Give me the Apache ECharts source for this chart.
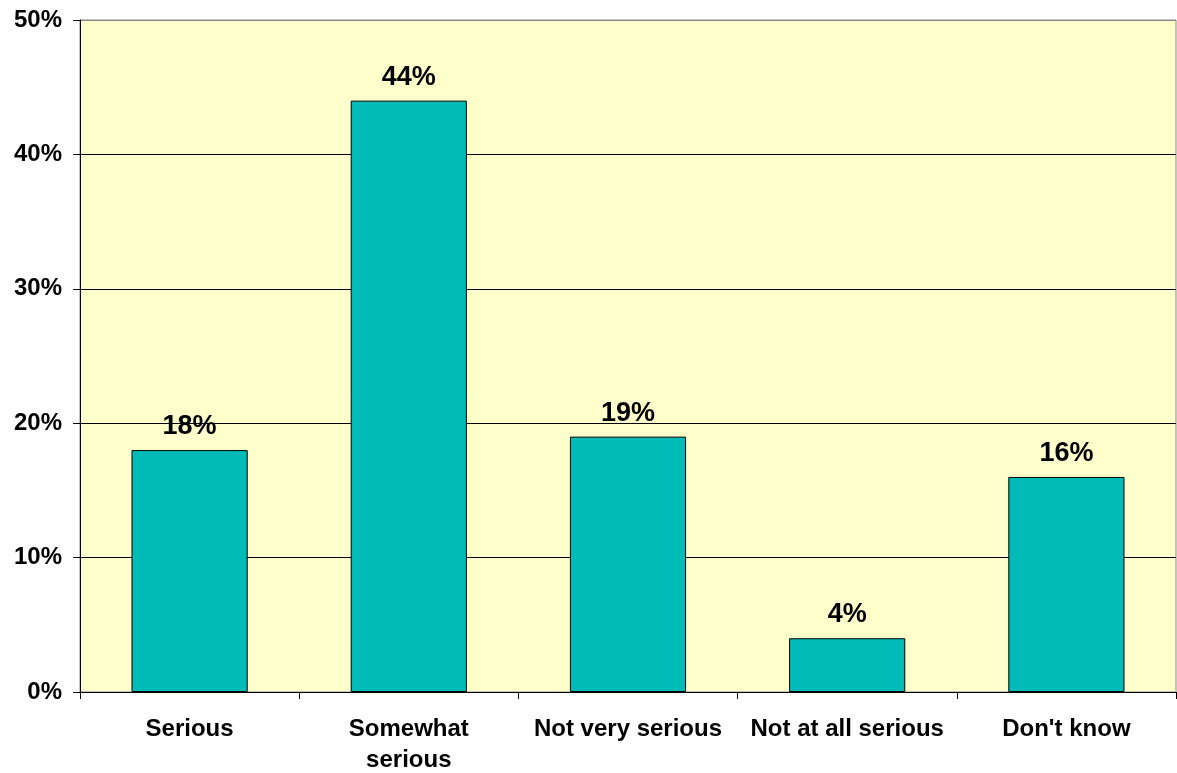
<!DOCTYPE html>
<html>
<head>
<meta charset="utf-8">
<script src="https://cdn.jsdelivr.net/npm/echarts@6/dist/echarts.min.js"></script>
<style>
html,body{margin:0;padding:0;background:#fff;}
#chart{width:1177px;height:773px;}
</style>
</head>
<body>
<div id="chart"></div>
<script>
const categories = ["Serious", "Somewhat\nserious", "Not very serious", "Not at all serious", "Don't know"];
const values = [18, 44, 19, 4, 16];
const yTicks = [0, 10, 20, 30, 40, 50];

const chart = echarts.init(document.getElementById('chart'));
const font = '"Liberation Sans", Arial, sans-serif';
chart.setOption({
  animation: false,
  grid: {
    left: 80, right: 1, top: 20, bottom: 81,
    containLabel: false, outerBoundsMode: 'none',
    show: true, backgroundColor: '#FFFFCC', borderColor: '#888888', borderWidth: 1
  },
  xAxis: {
    type: 'category',
    data: categories,
    axisLine: { lineStyle: { color: '#000', width: 1 } },
    axisTick: { show: true, length: 7, lineStyle: { color: '#000' } },
    axisLabel: {
      color: '#000', fontFamily: font, fontWeight: 'bold', fontSize: 24,
      margin: 22, lineHeight: 31, interval: 0
    }
  },
  yAxis: {
    type: 'value',
    min: yTicks[0], max: yTicks[yTicks.length - 1], interval: 10,
    axisLine: { show: true, lineStyle: { color: '#000', width: 1 } },
    axisTick: { show: true, length: 7, lineStyle: { color: '#000' } },
    axisLabel: {
      color: '#000', fontFamily: font, fontWeight: 'bold', fontSize: 24,
      margin: 18, formatter: v => v + '%'
    },
    splitLine: { show: true, lineStyle: { color: ['#000', '#000', '#000', '#000', '#000', '#888'], width: 1 } }
  },
  series: [{
    type: 'bar',
    data: values,
    barWidth: '53%',
    itemStyle: { color: '#00BBB7', borderColor: '#000', borderWidth: 1 },
    label: {
      show: true, position: 'top', distance: 10,
      color: '#000', fontFamily: font, fontWeight: 'bold', fontSize: 27,
      formatter: p => p.value + '%'
    }
  }]
});
</script>
</body>
</html>
